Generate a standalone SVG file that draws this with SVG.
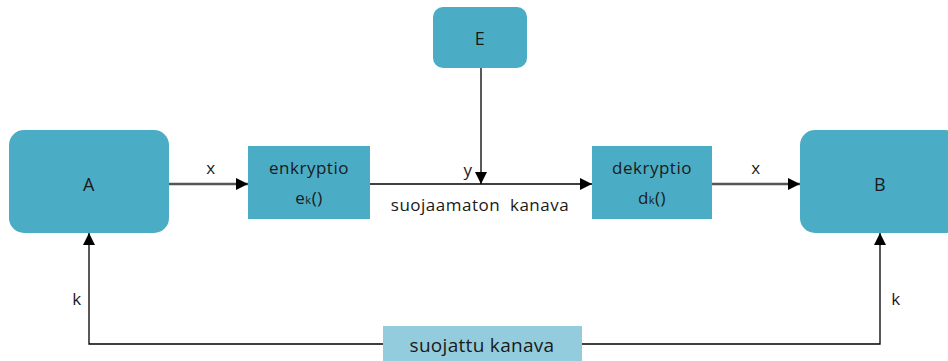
<svg xmlns="http://www.w3.org/2000/svg" width="948" height="361" viewBox="0 0 948 361">
<style>
.node{fill:#4BACC6;}
.lt{fill:#93CDDD;}
text{font-family:"Open Sans","DejaVu Sans",sans-serif;fill:#1a1a1a;font-size:17px;letter-spacing:0.5px;text-anchor:middle;}
.big{font-size:18px;}
.sj{font-size:19px;letter-spacing:0.3px;}
.ln{stroke:#000;stroke-width:1.3;fill:none;}
.gl{stroke:#555;stroke-width:2.5;fill:none;}
</style>
<defs>
<marker id="ah" viewBox="0 0 10 10" refX="10" refY="5" markerWidth="12" markerHeight="12" markerUnits="userSpaceOnUse" orient="auto">
<path d="M0,0 L10,5 L0,10 z" fill="#000"/>
</marker>
</defs>
<rect width="948" height="361" fill="#fff"/>
<g id="connectors">
<line class="gl" x1="169" y1="184" x2="248" y2="184" marker-end="url(#ah)"/>
<line class="ln" x1="370" y1="184" x2="592" y2="184" marker-end="url(#ah)"/>
<line class="ln" x1="481" y1="68" x2="481" y2="184" marker-end="url(#ah)"/>
<line class="gl" x1="712" y1="184" x2="800" y2="184" marker-end="url(#ah)"/>
<polyline class="ln" points="383,344 89,344 89,233" marker-end="url(#ah)"/>
<polyline class="ln" points="582,344 880,344 880,233" marker-end="url(#ah)"/>
<text x="211" y="174">x</text>
<text x="468" y="176">y</text>
<text x="480" y="211" xml:space="preserve">suojaamaton  kanava</text>
<text x="756" y="174">x</text>
<text x="77" y="305">k</text>
<text x="896" y="305">k</text>
</g>
<g id="A"><rect class="node" x="9" y="130" width="160" height="103" rx="15"/><text class="big" x="89" y="191">A</text></g>
<g id="B"><rect class="node" x="800" y="130" width="160" height="103" rx="15"/><text class="big" x="880" y="191">B</text></g>
<g id="E"><rect class="node" x="433" y="7" width="94" height="61" rx="10"/><text class="big" x="480" y="45">E</text></g>
<g id="enkryptio"><rect class="node" x="248" y="146" width="122" height="73"/><text x="309" y="174">enkryptio</text><text x="309" y="204">e<tspan font-size="11">k</tspan>()</text></g>
<g id="dekryptio"><rect class="node" x="592" y="146" width="120" height="73"/><text x="652" y="174">dekryptio</text><text x="652" y="204">d<tspan font-size="11">k</tspan>()</text></g>
<g id="suojattu"><rect class="lt" x="383" y="326" width="199" height="40"/><text class="sj" x="482" y="352">suojattu kanava</text></g>
</svg>
